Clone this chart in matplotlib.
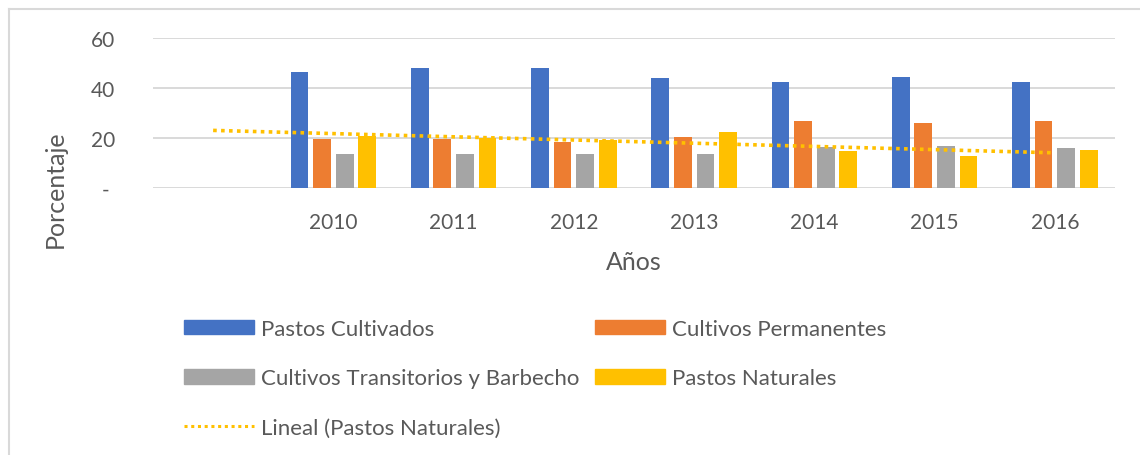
import numpy as np
import matplotlib
matplotlib.use("Agg")
import matplotlib.pyplot as plt
from matplotlib.patches import Patch
from matplotlib.lines import Line2D

# -----------------------------
# Data
# -----------------------------
years = ["", "2010", "2011", "2012", "2013", "2014", "2015", "2016"]
pastos_cultivados = [np.nan, 46.3, 47.9, 47.9, 43.9, 42.3, 44.5, 42.3]
cultivos_permanentes = [np.nan, 19.6, 19.6, 18.3, 20.3, 26.7, 25.9, 26.7]
cultivos_transitorios = [np.nan, 13.6, 13.6, 13.6, 13.6, 16.3, 16.9, 16.0]
pastos_naturales = [np.nan, 20.9, 19.9, 19.3, 22.5, 14.9, 12.7, 15.2]

series_names = ["Pastos Cultivados", "Cultivos Permanentes",
                "Cultivos Transitorios y Barbecho", "Pastos Naturales"]
colors = ["#4472C4", "#ED7D31", "#A5A5A5", "#FFC000"]
yticks = [0, 20, 40, 60]
ytick_labels = ["- ", "20", "40", "60"]

plt.rcParams["font.family"] = ["Lato", "DejaVu Sans"]
text_color = "#595959"
grid_color = "#D9D9D9"

fig = plt.figure(figsize=(11.4, 4.56), dpi=100)
ax = fig.add_axes([153 / 1140, 1 - 189 / 456, (1115 - 153) / 1140, 150 / 456])

x = np.arange(len(years))
all_series = [pastos_cultivados, cultivos_permanentes, cultivos_transitorios, pastos_naturales]
step = 0.188
width = 0.148
for i, (vals, col) in enumerate(zip(all_series, colors)):
    ax.bar(x + (i - 1.5) * step, vals, width, color=col, zorder=3)

# linear trend of Pastos Naturales (Excel "Lineal"), over all category positions
pn = np.array(pastos_naturales)
mask = ~np.isnan(pn)
coef = np.polyfit(x[mask] + 1, pn[mask], 1)
trend = np.polyval(coef, x + 1)
ax.plot(x, trend, color="#FFC000", linestyle=(0, (1, 1.2)), lw=2.6, zorder=4)

ax.set_xlim(-0.5, len(years) - 0.5)
ax.set_ylim(0, 60)
ax.set_xticks(x)
ax.set_xticklabels(years)
ax.set_yticks(yticks)
ax.set_yticklabels(ytick_labels)
ax.tick_params(length=0, labelsize=15, colors=text_color)
ax.tick_params(axis="y", pad=27)
ax.tick_params(axis="x", pad=17)
ax.grid(axis="y", color=grid_color, lw=1.4, zorder=0)
for s in ax.spines.values():
    s.set_visible(False)

ax.set_xlabel("Años", fontsize=18, color=text_color, labelpad=13)
ax.set_ylabel("Porcentaje", fontsize=18, color=text_color)
ax.yaxis.set_label_coords(-0.09, 0.0)

# legend, row-major order like the Excel chart
handles = [
    Patch(color=colors[0], label=series_names[0]),
    Patch(color=colors[2], label=series_names[2]),
    Line2D([0], [0], color="#FFC000", linestyle=(0, (1, 1.2)), lw=2.2,
           label="Lineal (Pastos Naturales)"),
    Patch(color=colors[1], label=series_names[1]),
    Patch(color=colors[3], label=series_names[3]),
]
fig.legend(handles=handles, ncol=2, loc="upper left",
           bbox_to_anchor=(184 / 1140, 1 - 320 / 456),
           frameon=False, fontsize=16, labelcolor=text_color,
           handlelength=3.15, handleheight=0.63, handletextpad=0.33,
           columnspacing=0.68, labelspacing=1.32, borderpad=0, borderaxespad=0)

# outer chart border
fig.add_artist(Line2D([9 / 1140, 9 / 1140], [0, 1 - 10 / 456], color=grid_color, lw=1.5))
fig.add_artist(Line2D([9 / 1140, 1], [1 - 10 / 456, 1 - 10 / 456], color=grid_color, lw=1.5))

fig.savefig("out.png", dpi=100)
